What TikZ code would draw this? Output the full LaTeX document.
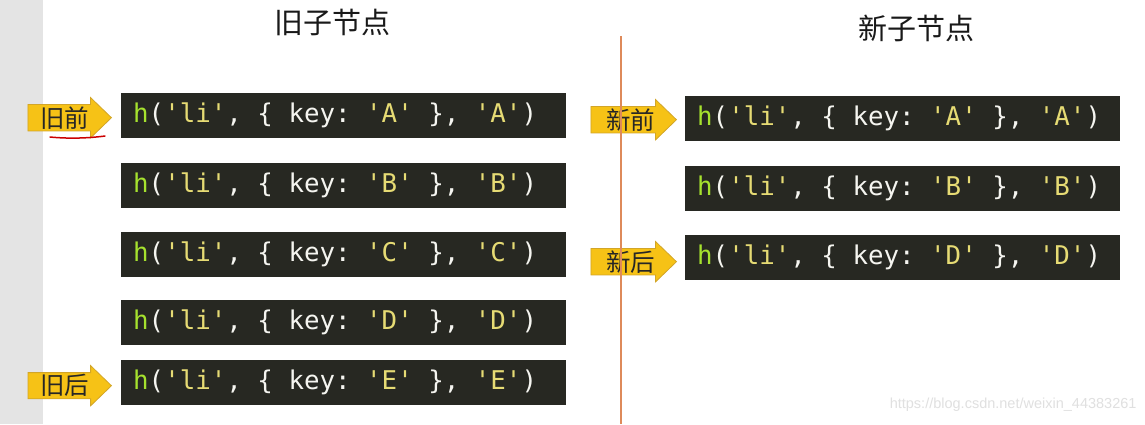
\documentclass[tikz,border=0pt]{standalone}
\usepackage{fontspec}
\usetikzlibrary{shapes.arrows}
\newfontfamily\cjk{Noto Sans CJK SC}
\setmonofont{DejaVu Sans Mono}
\setsansfont{Liberation Sans}
\definecolor{CodeBg}{RGB}{39,40,34}
\definecolor{CodeGreen}{RGB}{166,226,46}
\definecolor{CodeYellow}{RGB}{230,219,116}
\definecolor{CodeWhite}{RGB}{245,245,240}
\definecolor{ArrowGold}{RGB}{246,194,22}
\definecolor{ArrowEdge}{RGB}{210,165,40}
\definecolor{SplitLine}{RGB}{222,138,90}
\definecolor{SideGray}{RGB}{228,228,228}
\newcommand{\gap}{\hspace*{0.602em}}
\newcommand{\hcall}[1]{\textcolor{CodeGreen}{h}(\textcolor{CodeYellow}{'li'},\gap\{\gap key:\gap\textcolor{CodeYellow}{'#1'}\gap\},\gap\textcolor{CodeYellow}{'#1'})}

\begin{document}
\begin{tikzpicture}[x=1pt, y=-1pt,
  codebox/.style={fill=CodeBg, text=CodeWhite, font=\ttfamily\fontsize{25.8}{30}\selectfont,
    minimum height=45, inner xsep=12pt, inner ysep=0pt, align=left, anchor=north west},
  oldbox/.style={codebox, text width=421pt},
  newbox/.style={codebox, text width=411pt},
  tag/.style={single arrow, fill=ArrowGold, draw=ArrowEdge, line width=0.8pt,
    font=\fontsize{24.5}{24.5}\selectfont\cjk, text=black!85, inner xsep=2pt, inner ysep=1.5pt,
    single arrow head extend=7pt, single arrow tip angle=88, anchor=tip},
  title/.style={font=\fontsize{29}{29}\selectfont\cjk, text=black!90}]
\useasboundingbox (0,0) rectangle (1145,424);
\fill[white] (0,0) rectangle (1145,424);
\fill[SideGray] (0,0) rectangle (43,424);
% titles
\node[title] (oldTitle) at (332,22) {旧子节点};
\node[title] (newTitle) at (916,28) {新子节点};
% old children
\node[oldbox] (oldA) at (121,93) {\hcall{A}};
\node[oldbox] (oldB) at (121,163) {\hcall{B}};
\node[oldbox] (oldC) at (121,232) {\hcall{C}};
\node[oldbox] (oldD) at (121,300) {\hcall{D}};
\node[oldbox] (oldE) at (121,360) {\hcall{E}};
% new children
\node[newbox] (newA) at (685,96) {\hcall{A}};
\node[newbox] (newB) at (685,166) {\hcall{B}};
\node[newbox] (newD) at (685,235) {\hcall{D}};
% pointers
\node[tag] (oldStart) at ([xshift=-9pt,yshift=-2pt]oldA.west) {\hspace*{10pt}旧前\hspace*{6pt}};
\node[tag] (oldEnd) at ([xshift=-9pt,yshift=-3pt]oldE.west) {\hspace*{10pt}旧后\hspace*{6pt}};
\node[tag] (newStart) at ([xshift=-8pt,yshift=-1pt]newA.west) {\hspace*{13pt}新前\hspace*{5pt}};
\node[tag] (newEnd) at ([xshift=-8pt,yshift=-4pt]newD.west) {\hspace*{13pt}新后\hspace*{5pt}};
\draw[red!80!black, line width=1.5pt, line cap=round] (50,137) .. controls (70,139) and (90,138) .. (105,136);
\draw[SplitLine, line width=2pt] (621,36) -- (621,424);
\node[font=\fontsize{14.5}{14.5}\selectfont\sffamily, text=black!12, anchor=east] (mark) at (1140,405) {https://blog.csdn.net/weixin\_44383261};
\end{tikzpicture}
\end{document}
